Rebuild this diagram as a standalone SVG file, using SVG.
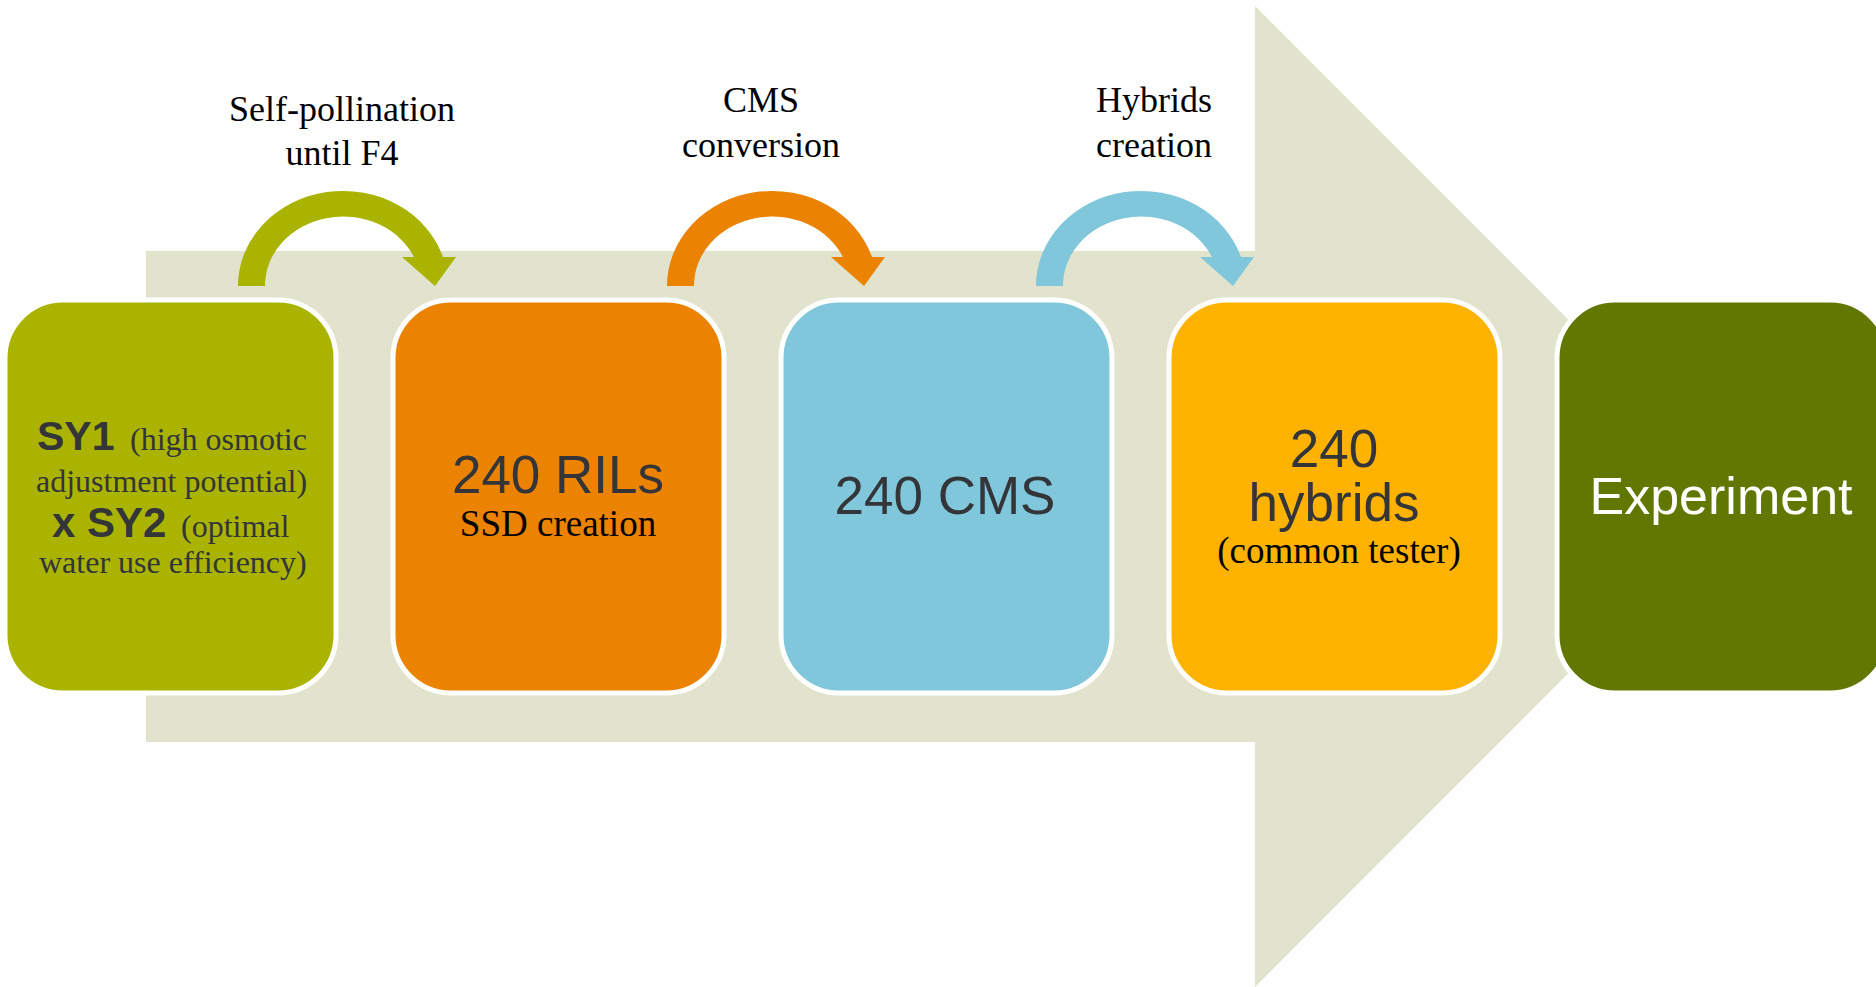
<svg xmlns="http://www.w3.org/2000/svg" xmlns:xlink="http://www.w3.org/1999/xlink" width="1876" height="987" viewBox="0 0 1876 987">
  <style>
    .box { stroke: #ffffff; stroke-width: 5; }
    .sans { font-family: "Liberation Sans", Arial, sans-serif; fill: #333539; }
    .step { font-family: "Liberation Serif", "Times New Roman", serif; font-size: 36px; fill: #000000; text-anchor: middle; }
    .big { font-size: 53px; text-anchor: middle; }
    .sub { font-family: "Liberation Serif", "Times New Roman", serif; font-size: 37px; fill: #000000; text-anchor: middle; }
    .note { font-family: "Liberation Serif", "Times New Roman", serif; font-size: 32px; fill: #333539; }
    .bold { font-family: "Liberation Sans", Arial, sans-serif; font-weight: bold; fill: #333539; }
  </style>
  <defs>
    <!-- curved "hop" arrow between neighbouring stages -->
    <path id="hop" d="M 238 286 A 105 95 0 0 1 443 257 L 456 257 L 435 286 L 402 257 L 414 257 A 78 69 0 0 0 265 286 Z"/>
  </defs>

  <rect width="1876" height="987" fill="#ffffff"/>

  <!-- background block arrow -->
  <polygon id="flow-arrow" points="146,251 1255,251 1255,6 1745,496.5 1255,987 1255,742 146,742" fill="#e1e3cc"/>

  <g id="connectors">
    <use xlink:href="#hop" fill="#aab400"/>
    <use xlink:href="#hop" fill="#eb8200" transform="translate(429,0)"/>
    <use xlink:href="#hop" fill="#80c7dc" transform="translate(798,0)"/>
    <text class="step" x="342" y="121">Self-pollination</text>
    <text class="step" x="342" y="165">until F4</text>
    <text class="step" x="761" y="112">CMS</text>
    <text class="step" x="761" y="157">conversion</text>
    <text class="step" x="1154" y="112">Hybrids</text>
    <text class="step" x="1154" y="157">creation</text>
  </g>

  <g id="parents">
    <rect class="box" x="5" y="300" width="331" height="393" rx="58" fill="#aab400"/>
    <text class="bold" x="37" y="450" font-size="41">SY1</text>
    <text class="note" x="130" y="450">(high osmotic</text>
    <text class="note" x="36" y="492">adjustment potential)</text>
    <text class="bold" x="52" y="537" font-size="42">x SY2</text>
    <text class="note" x="181" y="537">(optimal</text>
    <text class="note" x="39" y="573">water use efficiency)</text>
  </g>

  <g id="rils">
    <rect class="box" x="393" y="300" width="331" height="393" rx="58" fill="#eb8200"/>
    <text class="sans big" x="558" y="493">240 RILs</text>
    <text class="sub" x="558" y="536">SSD creation</text>
  </g>

  <g id="cms">
    <rect class="box" x="781" y="300" width="331" height="393" rx="58" fill="#80c7dc"/>
    <text class="sans big" x="945" y="514">240 CMS</text>
  </g>

  <g id="hybrids">
    <rect class="box" x="1169" y="300" width="331" height="393" rx="58" fill="#ffb300"/>
    <text class="sans big" x="1334" y="467">240</text>
    <text class="sans big" x="1334" y="521">hybrids</text>
    <text class="sub" x="1339" y="563">(common tester)</text>
  </g>

  <g id="experiment">
    <rect class="box" x="1557" y="300" width="331" height="393" rx="58" fill="#607800"/>
    <text x="1721" y="514" font-family="Liberation Sans, Arial, sans-serif" font-size="52" fill="#ffffff" text-anchor="middle">Experiment</text>
  </g>
</svg>
